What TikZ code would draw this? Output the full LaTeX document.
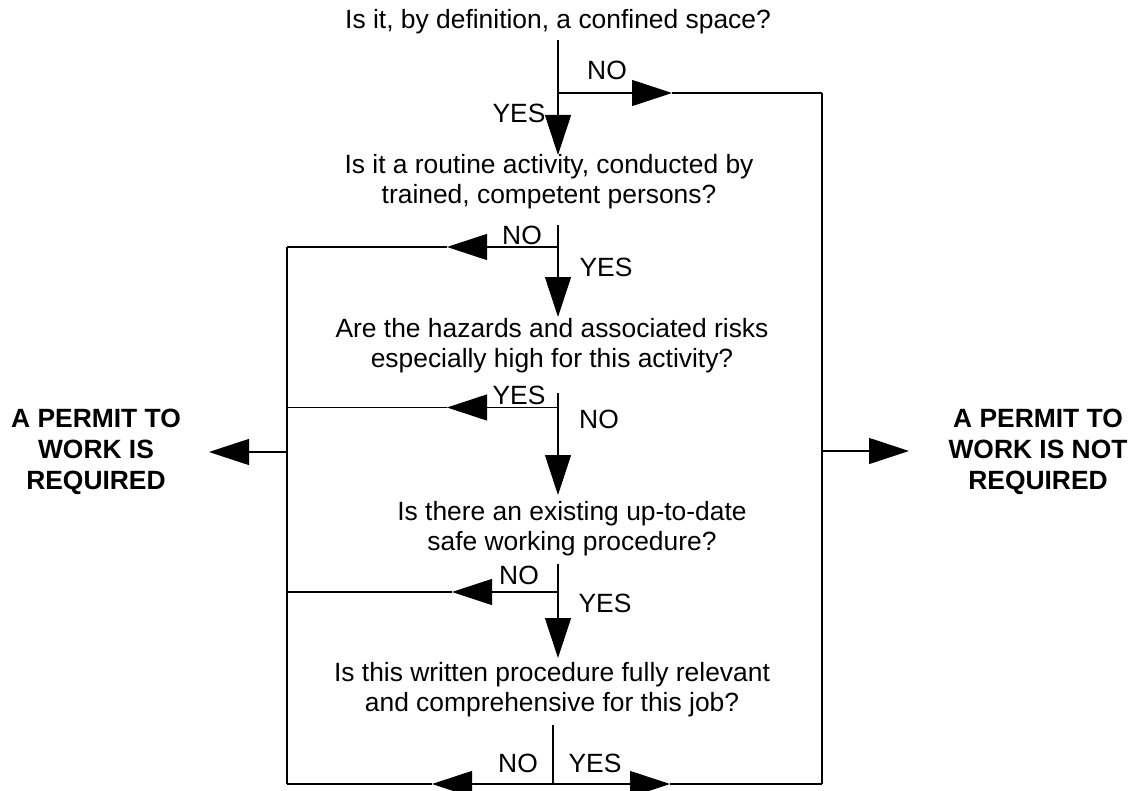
\documentclass[tikz,border=0pt]{standalone}
\usepackage{fontspec}
\setmainfont{Liberation Sans}
\usetikzlibrary{arrows.meta}
\begin{document}
\begin{tikzpicture}[x=0.5pt,y=-0.5pt,
  line/.style={line width=0.55pt},
  tip/.style={line width=0.55pt,-{Triangle[length=20pt,width=13pt]}},
  q/.style={align=center,inner sep=0pt,font=\fontsize{13.2}{15}\selectfont},
  lbl/.style={inner sep=0pt,font=\fontsize{13.2}{15}\selectfont},
  res/.style={align=center,inner sep=0pt,font=\fontsize{13.2}{15.5}\selectfont\bfseries}]
\useasboundingbox (0,0) rectangle (1145,791);
\clip (0,0) rectangle (1145,791);

% questions
\node[q] (t1) at (558,22) {Is it, by definition, a confined space?};
\node[q] (t2) at (549,182) {Is it a routine activity, conducted by\\trained, competent persons?};
\node[q] (t3) at (552,346) {Are the hazards and associated risks\\especially high for this activity?};
\node[q] (t4) at (572,529) {Is there an existing up-to-date\\safe working procedure?};
\node[q] (t5) at (552,690) {Is this written procedure fully relevant\\and comprehensive for this job?};

% results
\node[res] (req) at (96,452) {A PERMIT TO\\WORK IS\\REQUIRED};
\node[res] (nreq) at (1038,452) {A PERMIT TO\\WORK IS NOT\\REQUIRED};

% frame coordinates
\coordinate (Rtop) at (822,93);
\coordinate (Rmid) at (822,451);
\coordinate (Rbot) at (822,784);
\coordinate (Ltop) at (287,247);
\coordinate (Lmid) at (287,452);
\coordinate (Lbot) at (287,784);
\coordinate (Rout) at (909,451);
\coordinate (Lout) at (209,452);

\draw[line] (Rtop) -- (Rbot);
\draw[line] (Ltop) -- (Lbot);
\draw[tip] (Rmid) -- (Rout);
\draw[tip] (Lmid) -- (Lout);

% segment A
\coordinate (a0) at (558,40);
\coordinate (a1) at (558,93);
\coordinate (a2) at (558,155);
\coordinate (aa) at (672,93);
\draw[line] (a0) -- (a1);
\draw[tip] (a1) -- (a2);
\draw[tip] (a1) -- (aa);
\draw[line] (aa) -- (Rtop);
\node[lbl] (aNo) at (607,70) {NO};
\node[lbl] (aYes) at (519,113) {YES};

% segment B
\coordinate (b0) at (558,225);
\coordinate (b1) at (558,247);
\coordinate (b2) at (558,317);
\coordinate (ba) at (447,247);
\draw[tip] (b0) -- (b2);
\draw[tip] (b1) -- (ba);
\draw[line] (ba) -- (Ltop);
\node[lbl] (bNo) at (522,235) {NO};
\node[lbl] (bYes) at (606,267) {YES};

% segment C
\coordinate (c0) at (558,393);
\coordinate (c1) at (558,407.5);
\coordinate (c2) at (558,495);
\coordinate (ca) at (447,407.5);
\coordinate (cl) at (287,407.5);
\draw[tip] (c0) -- (c2);
\draw[tip] (c1) -- (ca);
\draw[line] (ca) -- (cl);
\node[lbl] (cYes) at (519,395) {YES};
\node[lbl] (cNo) at (599,419) {NO};

% segment D
\coordinate (d0) at (558,564);
\coordinate (d1) at (558,592);
\coordinate (d2) at (558,658);
\coordinate (da) at (452,592);
\coordinate (dl) at (287,592);
\draw[tip] (d0) -- (d2);
\draw[tip] (d1) -- (da);
\draw[line] (da) -- (dl);
\node[lbl] (dNo) at (519,575) {NO};
\node[lbl] (dYes) at (605,603) {YES};

% segment E
\coordinate (e0) at (553,725);
\coordinate (e1) at (553,784);
\coordinate (el) at (432,784);
\coordinate (er) at (670,784);
\draw[line] (e0) -- (e1);
\draw[tip] (e1) -- (el);
\draw[tip] (e1) -- (er);
\draw[line] (el) -- (Lbot);
\draw[line] (er) -- (Rbot);
\node[lbl] (eNo) at (518,763) {NO};
\node[lbl] (eYes) at (595,763) {YES};
\end{tikzpicture}
\end{document}
